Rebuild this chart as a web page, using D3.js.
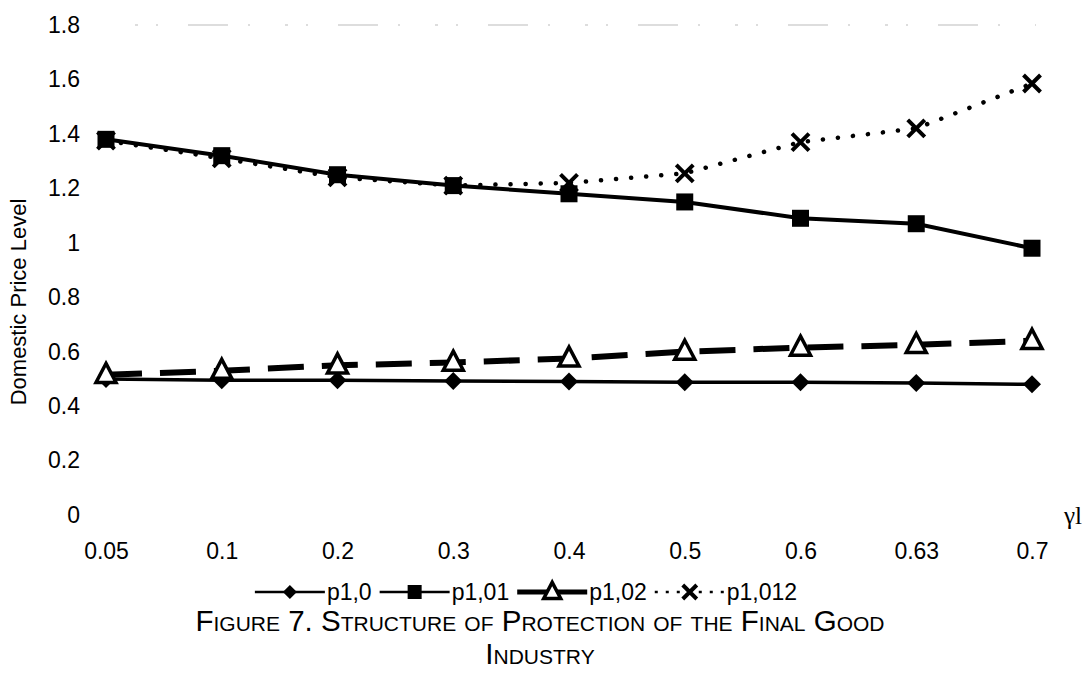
<!DOCTYPE html>
<html>
<head>
<meta charset="utf-8">
<script src="https://cdn.jsdelivr.net/npm/d3@7"></script>
<style>
  html, body { margin: 0; padding: 0; background: #fff; }
  text { font-family: "Liberation Sans", Arial, sans-serif; fill: #000; }
</style>
</head>
<body>
<svg id="chart" width="1091" height="692"></svg>
<script>
// ---- data ----
const categories = ["0.05", "0.1", "0.2", "0.3", "0.4", "0.5", "0.6", "0.63", "0.7"];
const p10   = [0.50, 0.495, 0.495, 0.492, 0.49, 0.488, 0.488, 0.485, 0.48];
const p101  = [1.38, 1.32, 1.25, 1.21, 1.18, 1.15, 1.09, 1.07, 0.98];
const p102  = [0.515, 0.53, 0.55, 0.56, 0.575, 0.60, 0.615, 0.625, 0.64];
const p1012 = [1.375, 1.31, 1.24, 1.21, 1.22, 1.255, 1.37, 1.42, 1.585];
const yTicks = [0, 0.2, 0.4, 0.6, 0.8, 1, 1.2, 1.4, 1.6, 1.8];
const seriesNames = ["p1,0", "p1,01", "p1,02", "p1,012"];

const svg = d3.select("#chart");
const FONT = "Liberation Sans, Arial, sans-serif";

const x = d3.scalePoint().domain(categories).range([106, 1032]);
const y = d3.scaleLinear().domain([0, 1.8]).range([515, 25]);

// top gridline (faint, broken as in scan)
svg.append("line")
  .attr("x1", 135).attr("x2", 1036)
  .attr("y1", y(1.8)).attr("y2", y(1.8))
  .attr("stroke", "#bbb").attr("stroke-width", 1)
  .attr("stroke-dasharray", "3,18,2,30,40,20,2,35");

// Y axis
const yAxis = svg.append("g")
  .attr("transform", "translate(80,0)")
  .call(d3.axisLeft(y).tickValues(yTicks).tickFormat(d3.format("~g")).tickSize(0).tickPadding(0));
yAxis.select(".domain").remove();
yAxis.selectAll("text").style("font-size", "23px").style("font-family", FONT);

// X axis
const xAxis = svg.append("g")
  .attr("transform", `translate(0,${y(0)})`)
  .call(d3.axisBottom(x).tickSize(0).tickPadding(28));
xAxis.select(".domain").remove();
xAxis.selectAll("text").style("font-size", "23px").style("font-family", FONT);

// Y axis title
svg.append("text")
  .attr("transform", "translate(26,302) rotate(-90)")
  .attr("text-anchor", "middle")
  .style("font-size", "22px")
  .text("Domestic Price Level");

// gamma label
svg.append("text")
  .attr("x", 1064).attr("y", 524)
  .style("font-family", "Liberation Serif, Times New Roman, serif")
  .style("font-size", "25px")
  .text("γl");

const line = d3.line().x((d, i) => x(categories[i])).y(d => y(d));

function drawMarker(g, type, cx, cy, s) {
  if (type === "diamond") {
    const r = s / 2;
    g.append("path").attr("d", `M${cx},${cy - r}L${cx + r},${cy}L${cx},${cy + r}L${cx - r},${cy}Z`)
      .attr("fill", "#000");
  } else if (type === "square") {
    g.append("rect").attr("x", cx - s / 2).attr("y", cy - s / 2)
      .attr("width", s).attr("height", s).attr("fill", "#000");
  } else if (type === "triangle") {
    const h = s * 0.95;
    g.append("path")
      .attr("d", `M${cx},${cy - h * 0.6}L${cx + s / 2},${cy + h * 0.4}L${cx - s / 2},${cy + h * 0.4}Z`)
      .attr("fill", "#fff").attr("stroke", "#000").attr("stroke-width", 3.5).attr("stroke-linejoin", "miter");
  } else if (type === "cross") {
    const r = s / 2;
    g.append("path")
      .attr("d", `M${cx - r},${cy - r}L${cx + r},${cy + r}M${cx - r},${cy + r}L${cx + r},${cy - r}`)
      .attr("stroke", "#000").attr("stroke-width", 4).attr("fill", "none");
  }
}

const series = {
  a: { name: seriesNames[0], values: p10,   width: 3.5, dash: null,     marker: "diamond",  ms: 18, cap: "butt" },
  b: { name: seriesNames[1], values: p101,  width: 4,   dash: null,     marker: "square",   ms: 17, cap: "butt" },
  c: { name: seriesNames[2], values: p102,  width: 6,   dash: "36,18",  marker: "triangle", ms: 20, cap: "butt" },
  d: { name: seriesNames[3], values: p1012, width: 4.5, dash: "0.1,15", marker: "cross",    ms: 17, cap: "round" }
};

// draw p1,012 under p1,01 so squares cover overlapping crosses
["a", "c", "d", "b"].forEach(k => {
  const s = series[k];
  const g = svg.append("g");
  g.append("path").datum(s.values)
    .attr("d", line)
    .attr("fill", "none").attr("stroke", "#000")
    .attr("stroke-width", s.width)
    .attr("stroke-linecap", s.cap)
    .attr("stroke-dasharray", s.dash);
  s.values.forEach((v, i) => drawMarker(g, s.marker, x(categories[i]), y(v), s.ms));
});

// Legend
const legendY = 592;
const leg = svg.append("g");
const legOrder = [series.a, series.b, series.c, series.d];
let cur = 0;
legOrder.forEach(s => {
  const w = 70;
  const gl = leg.append("g");
  gl.append("line").attr("x1", cur).attr("x2", cur + w)
    .attr("y1", legendY).attr("y2", legendY)
    .attr("stroke", "#000").attr("stroke-width", s.marker === "triangle" ? 5 : 2.5)
    .attr("stroke-dasharray", s.marker === "cross" ? "3,8" : null);
  drawMarker(gl, s.marker, cur + w / 2, legendY, s.marker === "triangle" ? 17 : 14);
  const t = gl.append("text").attr("x", cur + w + 2).attr("y", legendY + 8)
    .style("font-size", "23px").text(s.name);
  cur = cur + w + 2 + t.node().getComputedTextLength() + 8;
});
const legW = cur - 8;
leg.attr("transform", `translate(${526 - legW / 2},0)`);

// Title (small caps)
svg.append("text")
  .attr("x", 540).attr("y", 631)
  .attr("text-anchor", "middle")
  .style("font-size", "29.5px")
  .style("font-variant", "small-caps")
  .text("Figure 7. Structure of Protection of the Final Good");
svg.append("text")
  .attr("x", 540).attr("y", 664)
  .attr("text-anchor", "middle")
  .style("font-size", "29.5px")
  .style("font-variant", "small-caps")
  .text("Industry");
</script>
</body>
</html>
